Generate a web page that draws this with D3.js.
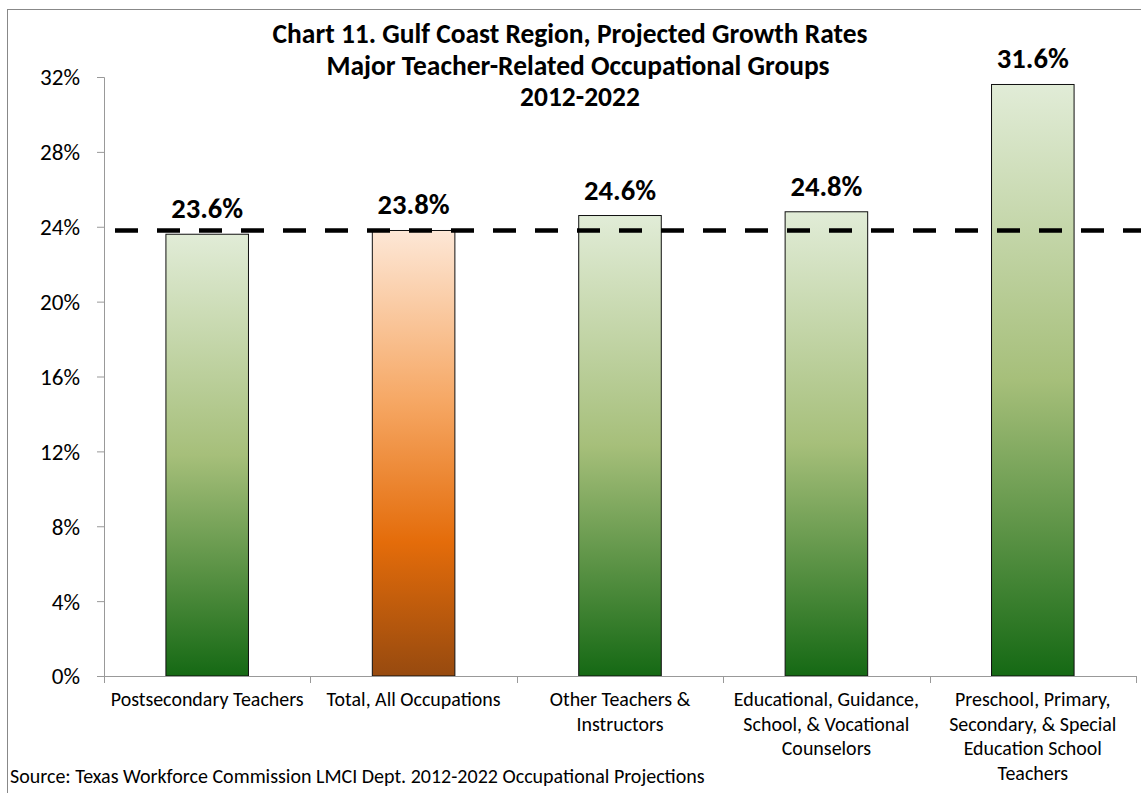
<!DOCTYPE html>
<html>
<head>
<meta charset="utf-8">
<script src="https://cdn.jsdelivr.net/npm/d3@7"></script>
<style>
  html, body { margin: 0; padding: 0; background: #fff; }
  svg { display: block; font-family: Carlito, Calibri, Lato, "Open Sans", sans-serif; }
</style>
</head>
<body>
<svg id="chart" width="1141" height="793"></svg>
<script>
// ---- data ----
const categories = [
  "Postsecondary Teachers",
  "Total, All Occupations",
  "Other Teachers & Instructors",
  "Educational, Guidance, School, & Vocational Counselors",
  "Preschool, Primary, Secondary, & Special Education School Teachers"
];
const categoryLines = [
  ["Postsecondary Teachers"],
  ["Total, All Occupations"],
  ["Other Teachers &", "Instructors"],
  ["Educational, Guidance,", "School, & Vocational", "Counselors"],
  ["Preschool, Primary,", "Secondary, & Special", "Education School", "Teachers"]
];
const growthRates = [23.6, 23.8, 24.6, 24.8, 31.6];
const highlight = [false, true, false, false, false];
const referenceValue = 23.8;
const yTicks = [0, 4, 8, 12, 16, 20, 24, 28, 32];
const titleLines = [
  "Chart 11. Gulf Coast Region, Projected Growth Rates",
  "Major Teacher-Related Occupational Groups",
  "2012-2022"
];
const sourceText = "Source: Texas Workforce Commission LMCI Dept. 2012-2022  Occupational Projections";

// ---- layout ----
const W = 1141, H = 793;
const plot = { left: 104, right: 1136, top: 77, bottom: 676 };
const svg = d3.select("#chart");

// scale a font size so a sample text reaches a target width
function fitSize(sample, target, weight) {
  const t = svg.append("text").attr("font-size", 20).attr("font-weight", weight || "normal").text(sample);
  const w = t.node().getComputedTextLength();
  t.remove();
  return 20 * target / w;
}
const titleSize = fitSize(titleLines[0], 595, "bold");
const valueSize = fitSize("23.6%", 72, "bold");
const tickSize = fitSize("32%", 40);
const catSize = fitSize("Postsecondary Teachers", 193);
const srcSize = fitSize(sourceText, 695);

const x = d3.scaleBand().domain(categories).range([plot.left, plot.right])
  .paddingInner(0.6).paddingOuter(0.3);
const y = d3.scaleLinear().domain([0, 32]).range([plot.bottom, plot.top]);

// gradients
const defs = svg.append("defs");
const gGreen = defs.append("linearGradient").attr("id", "gGreen")
  .attr("x1", 0).attr("y1", 0).attr("x2", 0).attr("y2", 1);
[[0, "#e1ecd7"], [0.5, "#a6bf7a"], [1, "#156914"]].forEach(s =>
  gGreen.append("stop").attr("offset", s[0]).attr("stop-color", s[1]));
const gOrange = defs.append("linearGradient").attr("id", "gOrange")
  .attr("x1", 0).attr("y1", 0).attr("x2", 0).attr("y2", 1);
[[0, "#fde7d6"], [0.38, "#f6a865"], [0.7, "#e46c0a"], [1, "#974a0f"]].forEach(s =>
  gOrange.append("stop").attr("offset", s[0]).attr("stop-color", s[1]));

// outer frame
svg.append("rect").attr("x", 7.5).attr("y", 9.5).attr("width", W).attr("height", H)
  .attr("fill", "none").attr("stroke", "#888").attr("stroke-width", 1);

// title
const titleX = [570, 578, 580];
svg.append("g").selectAll("text").data(titleLines).join("text")
  .attr("x", (d, i) => titleX[i]).attr("y", (d, i) => 43 + i * 31.5)
  .attr("text-anchor", "middle").attr("font-weight", "bold")
  .attr("font-size", titleSize).attr("fill", "#000").text(d => d);

// y axis
const yAxis = d3.axisLeft(y).tickValues(yTicks).tickFormat(d => d + "%").tickSize(7).tickPadding(24 - 7);
const gy = svg.append("g").attr("transform", `translate(${plot.left},0)`).call(yAxis);
gy.attr("font-size", null).attr("font-family", null);
gy.select(".domain").attr("stroke", "#999").attr("d", `M-7,${plot.top}.5H0.5V${plot.bottom}`);
gy.selectAll(".tick line").attr("stroke", "#999");
gy.selectAll(".tick text").attr("font-size", tickSize).attr("fill", "#000").attr("dy", "0.34em");

// bars
svg.append("g").selectAll("rect").data(categories).join("rect")
  .attr("x", d => x(d))
  .attr("y", (d, i) => y(growthRates[i]))
  .attr("width", x.bandwidth())
  .attr("height", (d, i) => y(0) - y(growthRates[i]))
  .attr("fill", (d, i) => highlight[i] ? "url(#gOrange)" : "url(#gGreen)")
  .attr("stroke", "#111").attr("stroke-width", 1);

// x axis
const step = x.step();
const bounds = d3.range(categories.length + 1).map(i => plot.left + i * step);
const gx = svg.append("g");
gx.append("line").attr("x1", plot.left).attr("x2", plot.right)
  .attr("y1", plot.bottom + 0.5).attr("y2", plot.bottom + 0.5).attr("stroke", "#999");
gx.selectAll("line.tk").data(bounds).join("line").attr("class", "tk")
  .attr("x1", d => Math.round(d) + 0.5).attr("x2", d => Math.round(d) + 0.5)
  .attr("y1", plot.bottom).attr("y2", plot.bottom + 7).attr("stroke", "#999");

// category labels
const cl = svg.append("g").selectAll("text").data(categories).join("text")
  .attr("text-anchor", "middle").attr("font-size", catSize).attr("fill", "#000")
  .attr("x", d => x(d) + x.bandwidth() / 2).attr("y", 706);
cl.selectAll("tspan").data((d, i) => categoryLines[i]).join("tspan")
  .attr("x", function () { return d3.select(this.parentNode).attr("x"); })
  .attr("dy", (d, i) => i === 0 ? 0 : 24.5).text(d => d);

// reference dashed line
svg.append("line")
  .attr("x1", plot.left + 11).attr("x2", W)
  .attr("y1", y(referenceValue)).attr("y2", y(referenceValue))
  .attr("stroke", "#000").attr("stroke-width", 4.5).attr("stroke-dasharray", "23,19");

// value labels
svg.append("g").selectAll("text").data(categories).join("text")
  .attr("x", d => x(d) + x.bandwidth() / 2)
  .attr("y", (d, i) => y(growthRates[i]) - 16)
  .attr("text-anchor", "middle").attr("font-weight", "bold").attr("font-size", valueSize)
  .attr("fill", "#000").text((d, i) => growthRates[i].toFixed(1) + "%");

// source
svg.append("text").attr("x", 10).attr("y", 783).attr("font-size", srcSize)
  .attr("fill", "#000").text(sourceText);
</script>
</body>
</html>
